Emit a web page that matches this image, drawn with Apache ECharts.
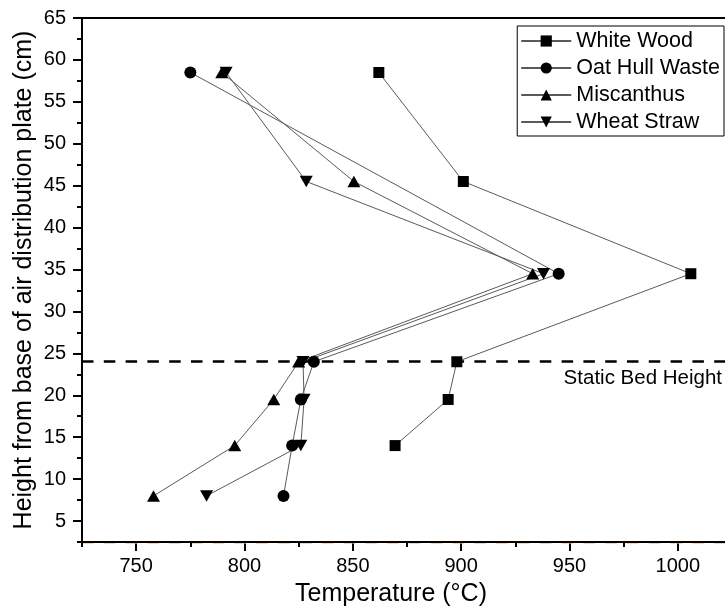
<!DOCTYPE html>
<html>
<head>
<meta charset="utf-8">
<script src="https://cdn.jsdelivr.net/npm/echarts@6/dist/echarts.min.js"></script>
<style>
  html, body { margin: 0; padding: 0; background: #fff; }
  #chart { width: 725px; height: 609px; }
</style>
</head>
<body>
<div id="chart"></div>
<script>
// Bed temperature profiles (°C) at each probe height (cm)
const heightsWhiteWood = [58.5, 45.5, 34.5, 24, 19.5, 14];
const tempWhiteWood    = [862, 901, 1006, 898, 894, 869.5];

const heightsOatHull = [58.5, 34.5, 24, 19.5, 14, 8];
const tempOatHull    = [775, 945, 832, 826, 822, 818];

const heightsMiscanthus = [58.5, 45.5, 34.5, 24, 19.5, 14, 8];
const tempMiscanthus    = [789.5, 850.5, 933, 825, 813.5, 795.5, 758];

const heightsWheatStraw = [58.5, 45.5, 34.5, 24, 19.5, 14, 8];
const tempWheatStraw    = [791.5, 828.5, 938, 827, 827.5, 826, 782.5];

const staticBedHeight = 24;

const xRange = [725, 1025];
const yRange = [2.5, 65];
const xMajorStart = 750, xStep = 50;
const yMajorStart = 5, yStep = 5;

const FONT = 'Liberation Sans, Arial, sans-serif';

// Plot frame in pixels (the frame runs a little past the right edge of the canvas)
const gLeft = 82, gTop = 18, gWidth = 650, gHeight = 524;
const pxPerX = gWidth / (xRange[1] - xRange[0]);
const pxPerY = gHeight / (yRange[1] - yRange[0]);
// Second (label) grid starts at the first major tick so its ticks land on 750, 800, ... and 5, 10, ...
const dxMajor = (xMajorStart - xRange[0]) * pxPerX;
const dyMajor = (yMajorStart - yRange[0]) * pxPerY;

const pair = (xs, ys) => xs.map((x, i) => [x, ys[i]]);

const lineColor = '#5a5a5a';
const downTri = 'path://M0,0L2,0L1,1.7Z';

function makeSeries(name, xs, ys, symbol, size) {
  return {
    name, type: 'line', xAxisIndex: 0, yAxisIndex: 0,
    data: pair(xs, ys),
    symbol, symbolSize: size,
    showSymbol: true,
    itemStyle: { color: '#000', borderWidth: 0 },
    lineStyle: { color: lineColor, width: 1 },
    emphasis: { disabled: true },
    z: 2
  };
}

const series = [
  makeSeries('White Wood', tempWhiteWood, heightsWhiteWood, 'rect', 11),
  makeSeries('Oat Hull Waste', tempOatHull, heightsOatHull, 'circle', 12),
  makeSeries('Miscanthus', tempMiscanthus, heightsMiscanthus, 'triangle', [13, 11.5]),
  makeSeries('Wheat Straw', tempWheatStraw, heightsWheatStraw, downTri, [13, 11.5])
];

series[0].clip = false;
series[0].markLine = {
  silent: true,
  symbol: ['none', 'none'],
  animation: false,
  data: [
    {
      yAxis: staticBedHeight,
      lineStyle: { color: '#000', width: 2.5, type: [11.5, 10.3] },
      label: {
        show: true,
        position: 'insideEndBottom',
        formatter: 'Static Bed Height',
        color: '#000',
        fontFamily: FONT,
        fontSize: 20.5,
        distance: 6,
        padding: [0, 4, 0, 0]
      }
    },
    {
      yAxis: yRange[0],
      lineStyle: { color: '#eab585', width: 2.5, type: [11.5, 10.3], opacity: 0.8 },
      label: { show: false }
    }
  ]
};

const axisLine = { show: true, lineStyle: { color: '#000', width: 2 } };

const option = {
  animation: false,
  backgroundColor: '#fff',
  grid: [
    { left: gLeft, top: gTop, width: gWidth, height: gHeight, containLabel: false, outerBoundsMode: 'none' },
    { left: gLeft + dxMajor, top: gTop, width: gWidth - dxMajor, height: gHeight - dyMajor, containLabel: false, outerBoundsMode: 'none' }
  ],
  xAxis: [
    { // frame axis with short ticks at 725, 775, ...
      type: 'value', gridIndex: 0, min: xRange[0], max: xRange[1], interval: xStep,
      axisLine, z: 5,
      axisTick: { show: true, inside: false, length: 5, lineStyle: { color: '#000', width: 2 } },
      axisLabel: { show: false }, splitLine: { show: false }
    },
    { // top frame line
      type: 'value', gridIndex: 0, position: 'top', min: xRange[0], max: xRange[1], interval: xStep,
      axisLine, axisTick: { show: false }, axisLabel: { show: false }, splitLine: { show: false }
    },
    { // labelled major ticks at 750, 800, ...
      type: 'value', gridIndex: 1, min: xMajorStart, max: xRange[1], interval: xStep,
      offset: dyMajor,
      axisLine: { show: false },
      axisTick: { show: true, inside: false, length: 9, lineStyle: { color: '#000', width: 2 } },
      axisLabel: {
        show: true, margin: 14, color: '#000', fontFamily: FONT, fontSize: 20,
        formatter: v => (v % xStep === 0 ? String(v) : '')
      },
      splitLine: { show: false }
    }
  ],
  yAxis: [
    { // frame axis with short ticks at 2.5, 7.5, ...
      type: 'value', gridIndex: 0, min: yRange[0], max: yRange[1], interval: yStep,
      axisLine, z: 5,
      axisTick: { show: true, inside: false, length: 5, lineStyle: { color: '#000', width: 2 } },
      axisLabel: { show: false }, splitLine: { show: false }
    },
    { // labelled major ticks at 5, 10, ...
      type: 'value', gridIndex: 1, min: yMajorStart, max: yRange[1], interval: yStep,
      offset: dxMajor,
      axisLine: { show: false },
      axisTick: { show: true, inside: false, length: 9, lineStyle: { color: '#000', width: 2 } },
      axisLabel: {
        show: true, margin: 16, color: '#000', fontFamily: FONT, fontSize: 20,
        formatter: v => (v % yStep === 0 ? String(v) : '')
      },
      splitLine: { show: false }
    }
  ],
  legend: {
    orient: 'vertical',
    right: 1, top: 26,
    padding: [4, 4, 3, 3],
    itemWidth: 50, itemHeight: 14, itemGap: 5,
    borderColor: '#000', borderWidth: 1,
    backgroundColor: '#fff',
    selectedMode: false,
    textStyle: { color: '#000', fontFamily: FONT, fontSize: 21.5, lineHeight: 21 },
    data: ['White Wood', 'Oat Hull Waste', 'Miscanthus', 'Wheat Straw']
  },
  graphic: [
    {
      type: 'text', x: 24, y: 280, rotation: Math.PI / 2,
      style: {
        text: 'Height from base of air distribution plate (cm)',
        fill: '#000', font: '25px ' + FONT, align: 'center', verticalAlign: 'middle'
      }
    },
    {
      type: 'text', x: 391, y: 594,
      style: {
        text: 'Temperature (°C)',
        fill: '#000', font: '25px ' + FONT, align: 'center', verticalAlign: 'middle'
      }
    }
  ],
  series
};

const chart = echarts.init(document.getElementById('chart'), null, { renderer: 'canvas' });
chart.setOption(option);
</script>
</body>
</html>
